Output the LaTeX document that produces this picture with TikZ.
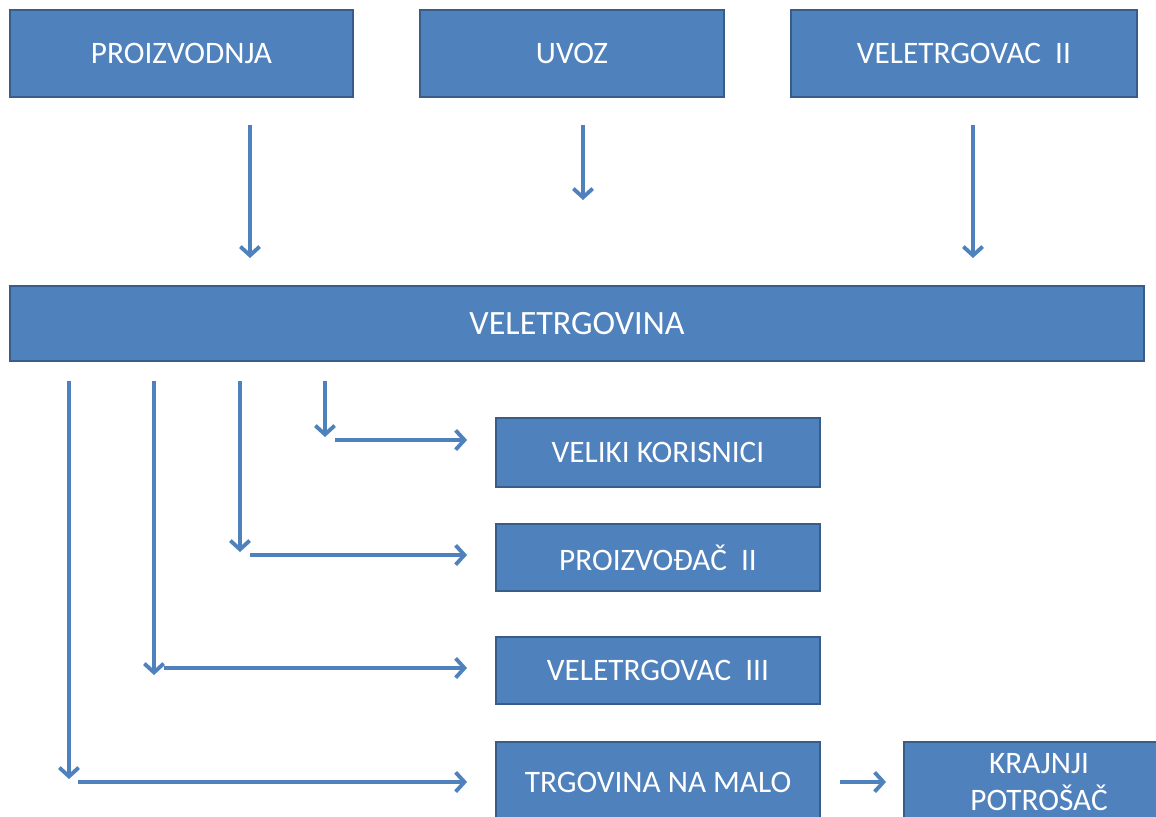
\documentclass[tikz,border=0pt]{standalone}
\usepackage{fontspec}
\setmainfont{Carlito}
\usetikzlibrary{arrows.meta}

\definecolor{boxfill}{HTML}{4F81BD}
\definecolor{boxline}{HTML}{385D8A}

\tikzset{
  box/.style={draw=boxline, line width=1.1pt, fill=boxfill, text=white,
    inner sep=0pt, outer sep=0pt, font=\fontsize{17.8}{21}\selectfont, align=center},
  flow/.style={draw=boxfill, line width=2.2pt,
    -{Straight Barb[length=5pt, width=11pt, line width=2.2pt]}}
}

\begin{document}
\begin{tikzpicture}[x=0.02cm, y=-0.02cm]
    \useasboundingbox (0,0) rectangle (1156,816);
    \clip (0,0) rectangle (1156,816);
    % upper row
    \node[box, minimum width=6.86cm, minimum height=1.74cm] (prod) at (181.5,53.5) {PROIZVODNJA};
    \node[box, minimum width=6.08cm, minimum height=1.74cm] (uvoz) at (572,53.5) {UVOZ};
    \node[box, minimum width=6.92cm, minimum height=1.74cm] (velII) at (964,53.5) {VELETRGOVAC\ \ II};
    \node[box, minimum width=22.68cm, minimum height=1.50cm,
          font=\fontsize{19.4}{23}\selectfont] (vel) at (577,323.5) {VELETRGOVINA};
    % receivers
    \node[box, minimum width=6.48cm, minimum height=1.38cm] (kor) at (658,452.5) {VELIKI KORISNICI};
    \node[box, minimum width=6.48cm, minimum height=1.34cm] (proII) at (658,557.5) {PROIZVOĐAČ\ \ II};
    \node[box, minimum width=6.48cm, minimum height=1.34cm] (velIII) at (658,670.5) {VELETRGOVAC\ \ III};
    \node[box, minimum width=6.48cm, minimum height=1.60cm] (mal) at (658,782) {TRGOVINA NA MALO};
    \node[box, minimum width=5.40cm, minimum height=1.60cm] (kraj) at (1039,782) {KRAJNJI\\POTROŠAČ};

    % arrow ends
    \path (250,125) coordinate (a1) (250,258) coordinate (b1)
          (583,125) coordinate (a2) (583,200) coordinate (b2)
          (973,125) coordinate (a3) (973,258) coordinate (b3);
    \foreach \i in {1,2,3}
        \draw[flow] (a\i) -- (b\i);

    \path (325,381) coordinate (d1) (325,437) coordinate (e1) (335,440) coordinate (h1)
          (240,381) coordinate (d2) (240,552) coordinate (e2) (250,555) coordinate (h2)
          (154,381) coordinate (d3) (154,675) coordinate (e3) (164,668) coordinate (h3)
          (69,381)  coordinate (d4) (69,779)  coordinate (e4) (78,782)  coordinate (h4);
    \foreach \i/\t in {1/kor,2/proII,3/velIII,4/mal}{
        \draw[flow] (d\i) -- (e\i);
        \draw[flow, shorten >=0.58cm] (h\i) -- (\t.west |- h\i);
    }
    \draw[flow, shorten <=0.4cm, shorten >=0.36cm] (mal.east |- h4) -- (kraj.west |- h4);
\end{tikzpicture}
\end{document}
